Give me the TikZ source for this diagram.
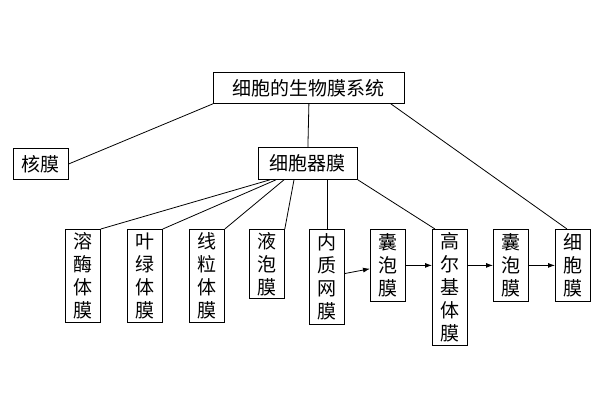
\documentclass[tikz,border=0pt]{standalone}
\usepackage{fontspec}
\newfontfamily\cjk{Noto Sans CJK SC}
\usetikzlibrary{arrows.meta}
\begin{document}
\begin{tikzpicture}[x=1pt, y=-1pt,
% boxes
box/.style={draw, thick, inner sep=1pt, font=\cjk\fontsize{19}{23}\selectfont},
hbox/.style={box, anchor=north west},
vbox/.style={box, anchor=north west, align=center, minimum width=35pt},
% connectors
link/.style={thick},
flow/.style={thick, -{Latex[length=7pt, width=5pt]}}
]
\useasboundingbox (0,0) rectangle (600,400);

% HEADINGS
\node[hbox, minimum width=191pt, minimum height=31pt] (sys) at (213,72) {细胞的生物膜系统};
\node[hbox, minimum width=55pt, minimum height=31pt] (nuc) at (13,148) {核膜};
\node[hbox, minimum width=99pt, minimum height=32pt] (org) at (258,147) {细胞器膜};

% ORGANELLES
\node[vbox, minimum height=93pt] (lys) at (65,229) {溶\\酶\\体\\膜};
\node[vbox, minimum height=93pt] (chl) at (127,229) {叶\\绿\\体\\膜};
\node[vbox, minimum height=93pt] (mit) at (189,229) {线\\粒\\体\\膜};
\node[vbox, minimum height=69pt] (vac) at (249,229) {液\\泡\\膜};
\node[vbox, minimum height=95pt] (er) at (309,229) {内\\质\\网\\膜};
\node[vbox, minimum height=72pt] (ves1) at (370,229) {囊\\泡\\膜};
\node[vbox, minimum height=116pt] (gol) at (432,229) {高\\尔\\基\\体\\膜};
\node[vbox, minimum height=72pt] (ves2) at (493,229) {囊\\泡\\膜};
\node[vbox, minimum height=72pt] (cell) at (555,229) {细\\胞\\膜};

% LINKS
\draw[link] (sys.south) -- (org.north);
\draw[link] (sys.south west) -- (nuc.east);
\draw[link] ([xshift=-14pt]sys.south east) -- ([xshift=12pt]cell.north west);
\draw[link] ([xshift=12pt]org.south west) -- (lys.north east);
\draw[link] ([xshift=18pt]org.south west) -- (chl.north east);
\draw[link] ([xshift=26pt]org.south west) -- (mit.north east);
\draw[link] ([xshift=36pt]org.south west) -- (vac.north east);
\draw[link] (er.north |- org.south) -- (er.north);
\draw[link] (org.south east) -- ([xshift=3pt]gol.north west);

% FLOW
\draw[flow] (er) -- (ves1);
\draw[flow] (ves1) -- (ves1 -| gol.west);
\draw[flow] (ves1 -| gol.east) -- (ves2);
\draw[flow] (ves2) -- (cell);
\end{tikzpicture}
\end{document}
